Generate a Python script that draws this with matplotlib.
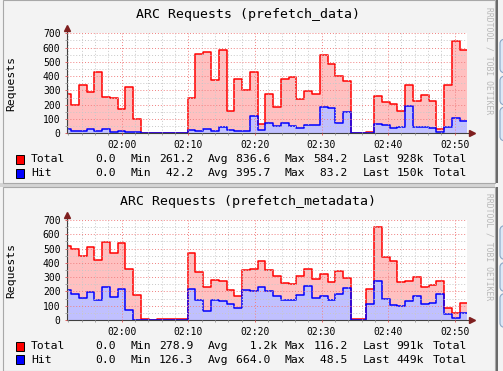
import matplotlib
matplotlib.use("Agg")
import matplotlib.pyplot as plt
import matplotlib.patches as mpatches
from matplotlib.ticker import FixedLocator, MultipleLocator

W, H = 503, 371

# time grid in minutes after midnight, one sample every 70 s
window_start = 60 + 51 + 50 / 60.0      # 01:51:50
window_len = 60.0
first_step = 60 + 52 + 24 / 60.0        # 01:52:24
step_min = 70 / 60.0

tick_labels = ["02:00", "02:10", "02:20", "02:30", "02:40", "02:50"]

data_total = [273, 196, 336, 287, 427, 254, 245, 168, 322, 98,
              0, 0, 0, 0, 0, 0,
              245, 553, 571, 371, 581, 154, 378, 301, 427, 67,
              273, 182, 378, 392, 238, 294, 273, 546, 483, 399, 364,
              0, 0, 11, 259, 217, 208, 154, 336, 224, 266, 224, 28, 336, 644, 581]
data_hit = [28, 14, 19, 28, 19, 33, 12, 19, 12, 12,
            0, 0, 0, 0, 0, 0,
            21, 14, 28, 14, 42, 21, 14, 14, 119, 21,
            70, 49, 70, 49, 35, 56, 56, 182, 175, 70, 147,
            0, 0, 0, 63, 56, 35, 42, 189, 42, 42, 35, 8, 42, 105, 84]
meta_total = [519, 496, 447, 510, 419, 547, 468, 537, 356, 175,
              7, 0, 7, 7, 7, 7,
              468, 335, 230, 279, 270, 209, 168, 349, 356, 412,
              349, 307, 260, 251, 307, 356, 286, 321, 265, 342, 293,
              5, 5, 216, 651, 440, 412, 265, 272, 300, 230, 244, 272, 84, 49, 119]
meta_hit = [209, 181, 154, 195, 140, 230, 160, 216, 70, 0,
            0, 0, 0, 0, 0, 0,
            216, 140, 63, 140, 133, 112, 84, 209, 202, 230,
            202, 168, 140, 140, 175, 237, 154, 168, 140, 181, 223,
            0, 0, 112, 272, 147, 105, 98, 133, 168, 112, 119, 181, 42, 14, 49]

legend_top = [["0.0", "261.2", "836.6 ", "584.2", "928k"],
              ["0.0", " 42.2", "395.7 ", " 83.2", "150k"]]
legend_bottom = [["0.0", "278.9", "  1.2k", "116.2", "991k"],
                 ["0.0", "126.3", "664.0 ", " 48.5", "449k"]]

MONO = "DejaVu Sans Mono"
PINK, RED = "#ffc0c0", "#ff0000"
LBLUE, BLUE = "#c0c0ff", "#0000ff"


def px(x, y):
    return x / W, 1 - y / H


fig = plt.figure(figsize=(W / 100, H / 100), dpi=100)
fig.patch.set_facecolor("#f3f3f3")


def rect(x0, y0, x1, y1, **kw):
    fig.patches.append(mpatches.Rectangle(px(x0, y1), (x1 - x0) / W, (y1 - y0) / H,
                                          transform=fig.transFigure, **kw))


def panel(y0, y1):
    rect(2.5, y0, 495, y1, facecolor="#f3f3f3", edgecolor="#a8a8a8", lw=0.8, zorder=-5)
    # page widgets on the right edge
    rect(495.5, y0, 497.5, y1, facecolor="#6a6a6a", lw=0, zorder=-4)
    for a, b in [(y0 + 39, y0 + 73), (y0 + 76, y0 + 105), (y0 + 107, y0 + 141)]:
        fig.patches.append(mpatches.FancyBboxPatch(
            px(500, b), 10 / W, (b - a) / H, boxstyle="round,pad=0,rounding_size=0.012",
            transform=fig.transFigure, facecolor="#dce8f6", edgecolor="#8aa6c6",
            lw=0.8, zorder=-3))


def chart(top, title, total, hit, legend):
    # top = pixel row of the 700 line; the 0 line sits 100 px lower
    ax = fig.add_axes([67.3 / W, 1 - (top + 100) / H, 399.7 / W, 100 / H])
    ax.set_facecolor("white")
    edges = [window_start] + [first_step + k * step_min for k in range(len(total) - 1)]
    edges.append(window_start + window_len)
    t = list(total) + [total[-1]]
    h = list(hit) + [hit[-1]]
    ax.fill_between(edges, t, step="post", color=PINK, lw=0)
    ax.fill_between(edges, h, step="post", color=LBLUE, lw=0)
    ax.step(edges, t, where="post", color=RED, lw=1.1)
    ax.step(edges, h, where="post", color=BLUE, lw=1.1)
    ax.set_xlim(window_start, window_start + window_len)
    ax.set_ylim(0, 700)

    ticks = [int(s[:2]) * 60 + int(s[3:]) for s in tick_labels]
    ax.xaxis.set_major_locator(FixedLocator(ticks))
    ax.xaxis.set_minor_locator(MultipleLocator(2))
    ax.set_xticklabels(tick_labels)
    ax.yaxis.set_major_locator(MultipleLocator(100))
    ax.yaxis.set_minor_locator(MultipleLocator(50))
    ax.grid(which="major", color="#f08080", ls=(0, (1, 2)), lw=0.7)
    ax.grid(which="minor", color="#c8c8c8", ls=(0, (1, 2)), lw=0.7)
    ax.set_axisbelow(False)
    for s in ax.spines.values():
        s.set_visible(False)
    ax.tick_params(which="both", length=1.5, width=0.7, labelsize=7)
    ax.tick_params(which="major", color="#e06060")
    ax.tick_params(which="minor", color="#a0a0a0")
    ax.tick_params(axis="x", pad=3.3)
    ax.tick_params(axis="y", pad=3.4)
    for lab in ax.get_xticklabels() + ax.get_yticklabels():
        lab.set_family(MONO)
    ax.set_ylabel("Requests", family=MONO, fontsize=8.2, va="center")
    ax.yaxis.set_label_coords(-0.139, 0.5)

    ax.plot([0, 0], [0, 1.055], transform=ax.transAxes, color="#404040", lw=0.8,
            clip_on=False)
    ax.plot([0, 1.012], [0, 0], transform=ax.transAxes, color="#404040", lw=0.8,
            clip_on=False)
    ax.plot([0], [1.055], marker="^", ms=4, color="#7f1f1f", transform=ax.transAxes,
            clip_on=False)
    ax.plot([1.012], [0], marker=">", ms=4, color="#7f1f1f", transform=ax.transAxes,
            clip_on=False)

    fig.text(*px(248.5, top - 19), title, family=MONO, fontsize=9.5,
             ha="center", va="center")
    fig.text(*px(489, top + 27), "RRDTOOL / TOBI OETIKER", family=MONO, fontsize=5.8,
             color="#b8b8b8", rotation=-90, ha="center", va="center")

    rows = [("Total", RED), ("Hit", BLUE)]
    for i, (name, col) in enumerate(rows):
        yc = top + 126 + i * 13.8
        rect(16, yc - 4.5, 24, yc + 4.5, facecolor=col, edgecolor="black", lw=0.7)
        vals = legend[i]
        items = [(31, name, "left"), (116.3, vals[0], "right"), (130.7, "Min", "left"),
                 (193.3, vals[1], "right"), (208, "Avg", "left"),
                 (277, vals[2], "right"), (284.7, "Max", "left"),
                 (347.7, vals[3], "right"), (362.3, "Last", "left"),
                 (424, vals[4], "right"), (432.3, "Total", "left")]
        for x, s, ha in items:
            fig.text(*px(x, yc), s, family=MONO, fontsize=8.2, ha=ha, va="center")
    return ax


panel(0, 183)
rect(0, 183, 495, 186.5, facecolor="#d4d4d4", lw=0, zorder=-6)
panel(186.5, 371)
chart(33.3, "ARC Requests (prefetch_data)", data_total, data_hit, legend_top)
chart(220.0, "ARC Requests (prefetch_metadata)", meta_total, meta_hit, legend_bottom)

fig.savefig("out.png", dpi=100)
